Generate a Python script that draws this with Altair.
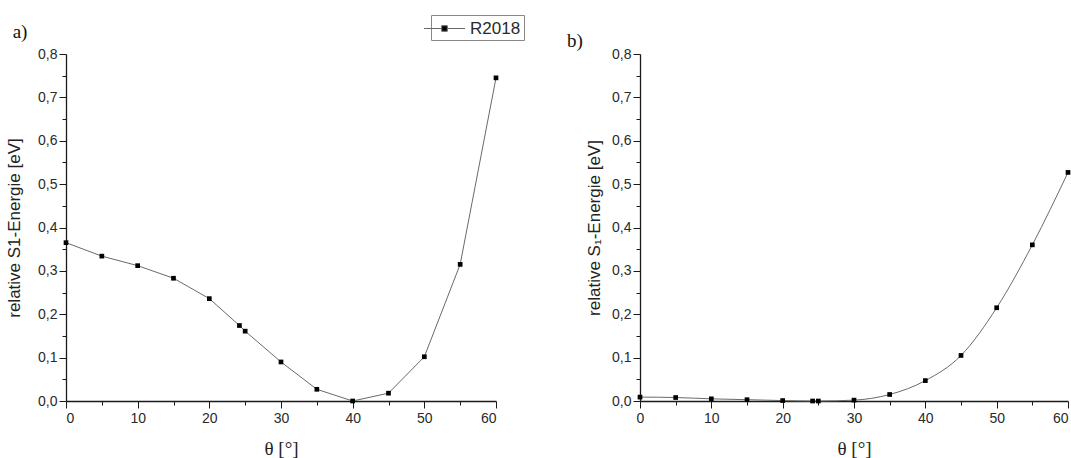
import altair as alt
import pandas as pd

# ---- data ----
theta_a = [0, 5, 10, 15, 20, 24.2, 25, 30, 35, 40, 45, 50, 55, 60]
energy_a = [0.365, 0.334, 0.312, 0.283, 0.236, 0.174, 0.161, 0.090, 0.027, 0.0, 0.018, 0.102, 0.315, 0.745]
theta_b = [0, 5, 10, 15, 20, 24.2, 25, 30, 35, 40, 45, 50, 55, 60]
energy_b = [0.009, 0.008, 0.005, 0.003, 0.001, 0.0, 0.0, 0.002, 0.015, 0.047, 0.105, 0.215, 0.360, 0.527]
series_name = "R2018"
x_tick_values = [0, 5, 10, 15, 20, 25, 30, 35, 40, 45, 50, 55, 60]
y_tick_values = [0, 0.05, 0.1, 0.15, 0.2, 0.25, 0.3, 0.35, 0.4, 0.45, 0.5, 0.55, 0.6, 0.65, 0.7, 0.75, 0.8]
panel_labels = ["a)", "b)"]
y_titles = ["relative S1-Energie [eV]", "relative S\u2081-Energie [eV]"]
x_title = "\u03b8 [\u00b0]"

df_a = pd.DataFrame({"theta": theta_a, "energy": energy_a, "series": series_name})
df_b = pd.DataFrame({"theta": theta_b, "energy": energy_b, "series": series_name})

AX = "#1a1a1a"
LBL = "#2a2a2a"
LINE = "#6a6a6a"


def x_axis(flush_last=False):
    kw = dict(
        values=x_tick_values,
        labelExpr="datum.value % 10 === 0 ? datum.label : ''",
        format="d",
        tickSize={"condition": {"test": "datum.value % 10 === 0", "value": 7}, "value": 4},
        labelPadding=3,
        titleFont="Liberation Serif",
        titleFontSize=19,
        titlePadding=14,
        grid=False,
    )
    if flush_last:
        kw["labelAlign"] = {"condition": {"test": "datum.value === 60", "value": "right"}, "value": "center"}
    return alt.Axis(**kw)


def y_axis(title_pad):
    return alt.Axis(
        values=y_tick_values,
        labelExpr="round(datum.value * 100) % 10 === 0 ? replace(format(datum.value, '.1f'), '.', ',') : ''",
        tickSize={"condition": {"test": "round(datum.value * 100) % 10 === 0", "value": 7}, "value": 4},
        labelPadding=2,
        titlePadding=title_pad,
        grid=False,
    )


def panel(df, y_title, label, label_xy, width, with_legend, flush_last, interp, title_pad):
    base = alt.Chart(df).encode(
        x=alt.X("theta:Q", title=x_title, scale=alt.Scale(domain=[0, 60], nice=False), axis=x_axis(flush_last)),
        y=alt.Y("energy:Q", title=y_title, scale=alt.Scale(domain=[0, 0.8], nice=False), axis=y_axis(title_pad)),
    )
    line = base.mark_line(color=LINE, strokeWidth=1, interpolate=interp)
    if with_legend:
        color = alt.Color(
            "series:N",
            scale=alt.Scale(domain=[series_name], range=["black"]),
            legend=alt.Legend(
                title=None,
                orient="none",
                legendX=365,
                legendY=-39,
                strokeColor="#888888",
                padding=3,
                symbolType="M-2.05,0H-0.28M0.28,0H2.05M-0.28,-0.28H0.28V0.28H-0.28Z",
                symbolSize=400,
                symbolFillColor="black",
                symbolStrokeColor=LINE,
                symbolStrokeWidth=1,
                labelFont="Liberation Sans",
                labelFontSize=17,
                labelColor=LBL,
                labelOffset=15,
            ),
        )
    else:
        color = alt.value("black")
    pts = base.mark_point(shape="square", filled=True, size=22, opacity=1).encode(color=color)
    lab = alt.Chart(pd.DataFrame({"t": [label]})).mark_text(
        font="Liberation Serif", fontSize=19, align="center", baseline="middle", color="#111111"
    ).encode(x=alt.value(label_xy[0]), y=alt.value(label_xy[1]), text="t:N")
    return alt.layer(line, pts, lab).properties(width=width, height=347)


panel_a = panel(df_a, y_titles[0], panel_labels[0], (-46, -22), 430, True, False, "linear", 14)
panel_b = panel(df_b, y_titles[1], panel_labels[1], (-65, -13), 428, False, True, "monotone", 8)

chart = (
    alt.hconcat(panel_a, panel_b, spacing=144, bounds="flush")
    .properties(padding={"left": 5, "top": 14, "right": 0, "bottom": 0})
    .configure_view(stroke=None)
    .configure_axis(
        domainColor=AX,
        domainWidth=1.3,
        tickColor=AX,
        tickWidth=1,
        labelFont="Liberation Sans",
        labelFontSize=14,
        labelColor=LBL,
        titleFont="Liberation Sans",
        titleFontSize=17,
        titleFontWeight="normal",
        titleColor="#222222",
    )
)

chart.save("out.html", embed_options={"renderer": "svg", "actions": False})
